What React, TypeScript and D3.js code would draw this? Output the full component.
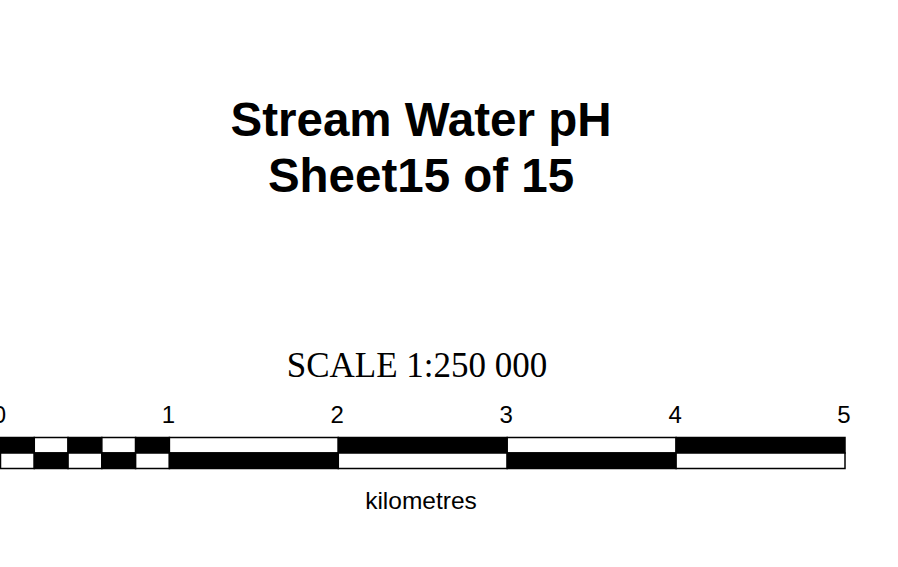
import React, { useEffect, useRef } from 'react';
import * as d3 from 'd3';

const width = 898;
const height = 567;

// chart texts
const titleLines = ['Stream Water pH', 'Sheet15 of 15'];
const scaleText = 'SCALE 1:250 000';
const unitLabel = 'kilometres';
// scale bar divisions in km (first km split in fifths)
const breaks = [0, 0.2, 0.4, 0.6, 0.8, 1, 2, 3, 4, 5];
const tickValues = [0, 1, 2, 3, 4, 5];

const App = () => {
	const ref = useRef<SVGSVGElement | null>(null);

	useEffect(() => {
		const svg = d3.select(ref.current);
		svg.selectAll('*').remove();

		const x = d3.scaleLinear().domain([0, 5]).range([0.5, 845]);
		const rowTop = 437.5;
		const rowH = 15.5;

		svg
			.append('g')
			.selectAll('text')
			.data(titleLines)
			.join('text')
			.attr('x', 421)
			.attr('y', (d, i) => 136 + i * 56)
			.attr('text-anchor', 'middle')
			.attr('font-family', '"Liberation Sans", Arial, sans-serif')
			.attr('font-weight', 'bold')
			.attr('font-size', 47.5)
			.text((d) => d);

		svg
			.append('text')
			.attr('x', 417)
			.attr('y', 377)
			.attr('text-anchor', 'middle')
			.attr('font-family', '"Liberation Serif", "Times New Roman", serif')
			.attr('font-size', 35)
			.text(scaleText);

		const segs = d3.pairs(breaks);
		const bar = svg.append('g');
		[0, 1].forEach((row) => {
			bar
				.append('g')
				.selectAll('rect')
				.data(segs)
				.join('rect')
				.attr('x', (d) => x(d[0]))
				.attr('y', rowTop + row * rowH)
				.attr('width', (d) => x(d[1]) - x(d[0]))
				.attr('height', rowH)
				.attr('fill', (d, i) => ((i + row) % 2 === 0 ? '#000' : '#fff'))
				.attr('stroke', '#000')
				.attr('stroke-width', 1.5);
		});

		svg
			.append('g')
			.selectAll('text')
			.data(tickValues)
			.join('text')
			.attr('x', (d) => x(d) - 1)
			.attr('y', 423)
			.attr('text-anchor', 'middle')
			.attr('font-family', '"Liberation Sans", Arial, sans-serif')
			.attr('font-size', 24)
			.text((d) => d);

		svg
			.append('text')
			.attr('x', 421)
			.attr('y', 509)
			.attr('text-anchor', 'middle')
			.attr('font-family', '"Liberation Sans", Arial, sans-serif')
			.attr('font-size', 24.5)
			.text(unitLabel);
	}, []);

	return (
		<svg
			ref={ref}
			width={width}
			height={height}
			style={{ position: 'absolute', left: 0, top: 0, background: '#fff' }}
		/>
	);
};

export default App;
